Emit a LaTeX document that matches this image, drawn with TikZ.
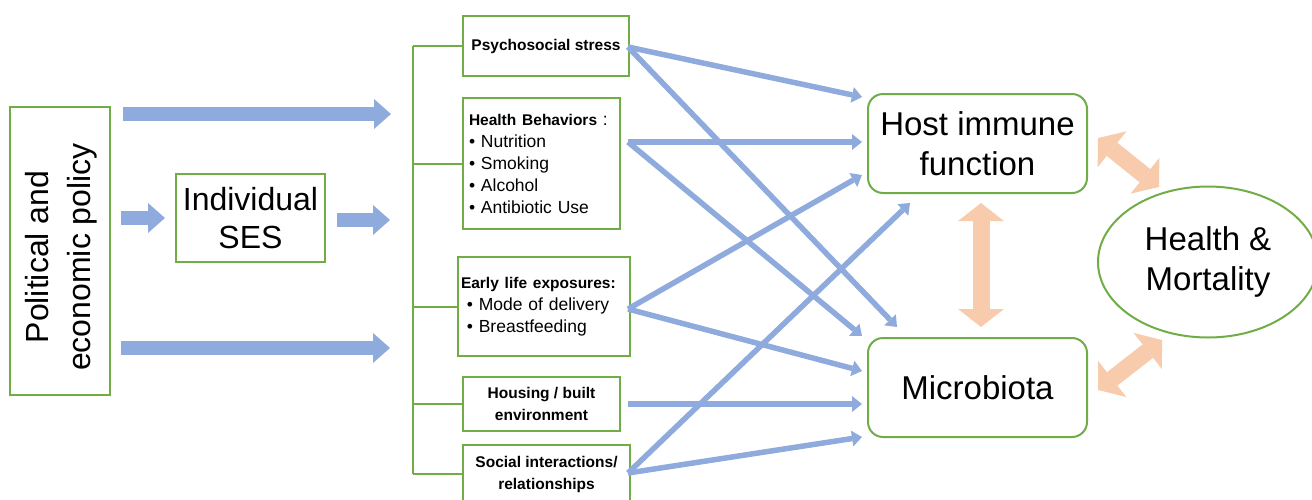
\documentclass[tikz,border=0pt]{standalone}
\usepackage{fontspec}
\setmainfont{Liberation Sans}
\usetikzlibrary{calc,arrows.meta,shapes.geometric}

\definecolor{boxgreen}{HTML}{70AD47}
\definecolor{arrowblue}{HTML}{8FAADC}
\definecolor{arroworange}{HTML}{F8CBAD}

\newcommand{\bigtext}{\fontsize{33}{40}\selectfont}
\newcommand{\itemtext}{\fontsize{17.5}{22}\selectfont}
\newcommand{\headtext}{\fontsize{15.5}{22}\selectfont\bfseries}

\begin{document}
\begin{tikzpicture}[x=1pt,y=-1pt,
    box/.style={draw=boxgreen,line width=2pt,inner sep=0pt},
    factor/.style={box,align=left,font=\itemtext},
    headbox/.style={box,align=center,font=\headtext},
    outcome/.style={box,rounded corners=15pt,minimum width=219pt,
        minimum height=99pt,align=center,font=\bigtext},
    blockarrow/.style={arrowblue,line width=14pt,
        -{Triangle[length=17pt,width=30pt,line width=0pt]}},
    linkarrow/.style={arrowblue,line width=5.5pt,
        -{Triangle[length=10pt,width=16pt,line width=0pt]}},
    dblarrow/.style={arroworange,line width=17pt,
        {Triangle[length=18pt,width=46pt,line width=0pt]}-{Triangle[length=18pt,width=46pt,line width=0pt]}},
    tie/.style={boxgreen,line width=2pt}]

    \clip (0,0) rectangle (1312,499);

    %======================================================
    % left: policy and SES
    %======================================================
    \node[box,minimum width=100pt,minimum height=288pt] (policy) at (60,251) {};
    \node[rotate=90,align=center,font=\fontsize{32}{42}\selectfont] (policylabel)
        at ($(policy)+(1,6)$) {Political and\\economic policy};

    \node[box,minimum width=149pt,minimum height=88pt,align=center,
        font=\fontsize{32}{38}\selectfont] (ses) at (250.5,218) {Individual\\SES};

    % block arrows
    \coordinate (topin) at (391,114);
    \coordinate (sesin) at (390,220);
    \coordinate (botin) at (390,348);

    \draw[blockarrow,shorten <=12pt] (policy.east |- topin) -- (topin);
    \draw[blockarrow,shorten <=10pt,shorten >=10pt] (policy.east |- ses.west) -- (ses.west);
    \draw[blockarrow,shorten <=11pt] (ses.east |- sesin) -- (sesin);
    \draw[blockarrow,shorten <=10pt] (policy.east |- botin) -- (botin);

    %======================================================
    % middle: pathways
    %======================================================
    \node[headbox,minimum width=166pt,minimum height=60pt] (psy) at (546,46)
        {Psychosocial stress};
    \node[factor,minimum width=157pt,minimum height=131pt,text width=145pt] (behav)
        at (541.5,163.5)
        {{\headtext Health Behaviors} :\\
         • Nutrition\\
         • Smoking\\
         • Alcohol\\
         • Antibiotic Use};
    \node[factor,minimum width=172pt,minimum height=99pt,text width=166pt] (early)
        at (544,306.5)
        {{\headtext Early life exposures:}\\
         \ • Mode of delivery\\
         \ • Breastfeeding};
    \node[headbox,minimum width=157pt,minimum height=54pt] (house) at (541.5,404)
        {Housing / built\\environment};
    \node[headbox,minimum width=167pt,minimum height=58pt] (social) at (546.5,474)
        {Social interactions/\\relationships};

    % bracket
    \coordinate (spine) at (413,0);
    \draw[tie] (spine |- psy.west) -- (spine |- social.west);
    \foreach \n in {psy,behav,early,house,social}{
        \draw[tie] (spine |- \n.west) -- (\n.west);
    }

    %======================================================
    % right: outcomes
    %======================================================
    \node[outcome] (host) at (977.5,143.5) {Host immune\\function};
    \node[outcome] (micro) at (977.5,387.5) {Microbiota};
    \node[box,ellipse,minimum width=220pt,minimum height=151pt,align=center,
        font=\bigtext] (health) at (1208,262) {Health \&\\Mortality};

    % link arrows
    \coordinate (psy-out) at (628,47);
    \coordinate (behav-out) at (628,142);
    \coordinate (early-out) at (628,309);
    \coordinate (house-out) at (628,404);
    \coordinate (social-out) at (628,473);

    \coordinate (host-in1) at (862,97);
    \coordinate (host-in2) at (862,142);
    \coordinate (host-in3) at (862,175);
    \coordinate (host-in4) at (910,203);
    \coordinate (micro-in1) at (897,327);
    \coordinate (micro-in2) at (862,336);
    \coordinate (micro-in3) at (862,371);
    \coordinate (micro-in4) at (862,404);
    \coordinate (micro-in5) at (862,437);

    \foreach \s/\t in {psy-out/host-in1,psy-out/micro-in1,
                       behav-out/host-in2,behav-out/micro-in2,
                       early-out/host-in3,early-out/micro-in3,
                       house-out/micro-in4,
                       social-out/micro-in5,social-out/host-in4}{
        \draw[linkarrow] (\s) -- (\t);
    }

    % two-way arrows
    \coordinate (host-link) at (1098,138);
    \coordinate (health-top) at (1159,187);
    \coordinate (micro-link) at (1098,390);
    \coordinate (health-bot) at (1162,340);

    \draw[dblarrow,shorten <=9pt,shorten >=10pt] ($(host.south)+(3.5,0)$) -- ($(micro.north)+(3.5,0)$);
    \draw[dblarrow] (host-link) -- (health-top);
    \draw[dblarrow] (micro-link) -- (health-bot);
\end{tikzpicture}
\end{document}
